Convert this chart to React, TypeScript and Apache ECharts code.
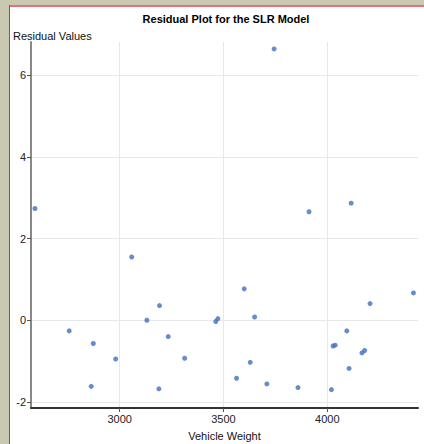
import React, { useEffect, useRef } from "react";
import * as echarts from "echarts";

const vehicleWeight = [
  2592, 2757, 2873, 2863, 2981, 3058, 3131, 3192, 3189, 3234, 3313, 3463, 3473,
  3563, 3600, 3629, 3650, 3709, 3744, 3859, 3912, 4020, 4028, 4038, 4094, 4105,
  4115, 4167, 4180, 4206, 4415,
];
const residuals = [
  2.74, -0.26, -0.57, -1.62, -0.95, 1.55, 0.0, 0.36, -1.68, -0.4, -0.93, -0.03,
  0.04, -1.42, 0.77, -1.03, 0.08, -1.56, 6.65, -1.65, 2.66, -1.7, -0.63, -0.61,
  -0.26, -1.18, 2.87, -0.8, -0.74, 0.41, 0.67,
];
const xTicks = [3000, 3500, 4000];
const yTicks = [-2, 0, 2, 4, 6];
const titleText = "Residual Plot for the SLR Model";
const xName = "Vehicle Weight";
const yName = "Residual Values";

const FONT = "'Liberation Sans', Arial, sans-serif";

export default function App() {
  const ref = useRef<HTMLDivElement>(null);
  useEffect(() => {
    document.body.style.margin = "0";
    const chart = echarts.init(ref.current!, null, { renderer: "svg" });
    const points = vehicleWeight.map((x, i) => [x, residuals[i]]);
    chart.setOption({
      animation: false,
      backgroundColor: "#ffffff",
      textStyle: { fontFamily: FONT },
      title: {
        text: titleText,
        left: 221,
        textAlign: "center",
        top: 8,
        textStyle: { fontSize: 11, fontWeight: "bold", color: "#000", fontFamily: FONT },
      },
      graphic: [
        { type: "rect", shape: { x: 0, y: 0, width: 9, height: 444 }, style: { fill: "#c9c8b0" }, silent: true },
        { type: "rect", shape: { x: 0, y: 0, width: 424, height: 5 }, style: { fill: "#c9c8b0" }, silent: true },
        { type: "rect", shape: { x: 9, y: 5, width: 415, height: 2 }, style: { fill: "#e8707e" }, silent: true },
        { type: "rect", shape: { x: 9, y: 5, width: 1, height: 439 }, style: { fill: "#c83838" }, silent: true },
        {
          type: "text",
          x: 13,
          y: 36,
          style: { text: yName, fontSize: 11, fill: "#111", fontFamily: FONT, verticalAlign: "middle" },
        },
      ],
      grid: { left: 31, top: 42, right: 6, bottom: 36, containLabel: false, outerBoundsMode: "none" },
      xAxis: {
        type: "value",
        min: 2573,
        max: 4437,
        minInterval: 500,
        maxInterval: 500,
        name: xName,
        nameLocation: "middle",
        nameGap: 22,
        nameTextStyle: { fontSize: 11, color: "#111", fontFamily: FONT },
        axisLine: { show: true, onZero: false, lineStyle: { color: "#333", width: 2 } },
        axisTick: { show: true, length: 4, lineStyle: { color: "#555" }, customValues: xTicks },
        axisLabel: {
          fontSize: 11,
          color: "#222",
          margin: 5,
          customValues: xTicks,
          fontFamily: FONT,
          formatter: (v: number) => String(v),
        },
        splitLine: { show: true, showMinLine: true, showMaxLine: true, lineStyle: { color: "#e8e8e8", width: 1 } },
      },
      yAxis: {
        type: "value",
        min: -2.15,
        max: 6.82,
        minInterval: 2,
        maxInterval: 2,
        axisLine: { show: true, onZero: false, lineStyle: { color: "#888", width: 2 } },
        axisTick: { show: true, length: 4, lineStyle: { color: "#555" }, customValues: yTicks },
        axisLabel: {
          fontSize: 11,
          color: "#222",
          margin: 5,
          customValues: yTicks,
          fontFamily: FONT,
          formatter: (v: number) => String(v),
        },
        splitLine: { show: true, showMinLine: true, showMaxLine: true, lineStyle: { color: "#e8e8e8", width: 1 } },
      },
      series: [
        {
          type: "scatter",
          data: points,
          symbol: "circle",
          symbolSize: 5,
          itemStyle: { color: "#3f6fc2" },
        },
      ],
    });
    return () => chart.dispose();
  }, []);
  return (
    <div
      ref={ref}
      style={{ position: "fixed", left: 0, top: 0, width: 424, height: 444 }}
    />
  );
}
